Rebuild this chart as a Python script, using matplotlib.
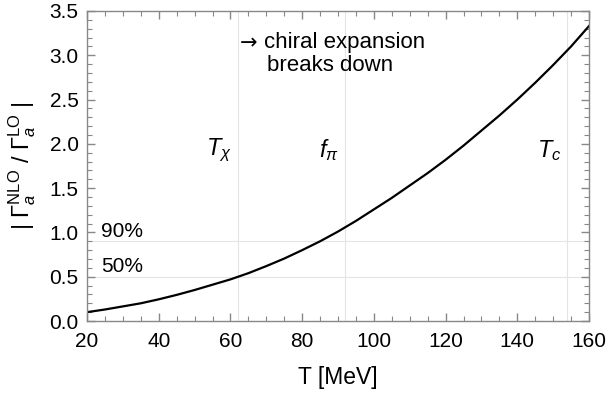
import numpy as np
import matplotlib
matplotlib.use('Agg')
import matplotlib.pyplot as plt
from matplotlib.ticker import MultipleLocator

plt.rcParams['font.family'] = ['Liberation Sans', 'DejaVu Sans']
plt.rcParams['mathtext.fontset'] = 'custom'
plt.rcParams['mathtext.rm'] = 'Liberation Sans'
plt.rcParams['mathtext.it'] = 'Liberation Sans:italic'
plt.rcParams['mathtext.bf'] = 'Liberation Sans:bold'

# ratio |Gamma_NLO / Gamma_LO|
T = [20, 25, 30, 35, 40, 45, 50, 55, 60, 65, 70, 75, 80, 85, 90,
     95, 100, 105, 110, 115, 120, 125, 130, 135, 140, 145, 150, 155, 160]
ratio = [0.10, 0.13, 0.165, 0.20, 0.245, 0.295, 0.35, 0.41, 0.47, 0.54,
         0.62, 0.705, 0.80, 0.90, 1.01, 1.13, 1.26, 1.39, 1.53, 1.67,
         1.82, 1.98, 2.15, 2.32, 2.50, 2.69, 2.89, 3.10, 3.33]

# reference temperatures and levels
vlines = [62, 92, 154]
vlabels = [r'$T_\chi$', r'$f_\pi$', r'$T_c$']
hlines = [0.5, 0.9]
hlabels = ['50%', '90%']

fig = plt.figure(figsize=(6.11, 3.97), dpi=100)
ax = fig.add_axes([0.1424, 0.1914, 0.8216, 0.7809])

for x in vlines:
    ax.axvline(x, color='#e4e4e4', lw=0.8, zorder=0)
for y in hlines:
    ax.axhline(y, color='#e4e4e4', lw=0.8, zorder=0)

ax.plot(T, ratio, color='black', lw=1.6)

for x, lab in zip(vlines, vlabels):
    ax.text(x - 1.8, 1.93, lab, fontsize=17, ha='right', va='center')
for y, lab in zip(hlines, hlabels):
    ax.text(24, y + 0.11, lab, fontsize=15, ha='left', va='center')

# annotation: arrow drawn with DejaVu (wider glyph), text in sans
ax.text(62.7, 3.14, '\u2192', fontsize=15, ha='left', va='center', family='DejaVu Sans')
ax.text(69.4, 3.14, 'chiral expansion', fontsize=16, ha='left', va='center')
ax.text(70.3, 2.89, 'breaks down', fontsize=16, ha='left', va='center')

ax.set_xlim(20, 160)
ax.set_ylim(0, 3.5)
ax.xaxis.set_major_locator(MultipleLocator(20))
ax.xaxis.set_minor_locator(MultipleLocator(5))
ax.yaxis.set_major_locator(MultipleLocator(0.5))
ax.yaxis.set_minor_locator(MultipleLocator(0.1))
ax.yaxis.set_major_formatter(matplotlib.ticker.FormatStrFormatter('%.1f'))

for s in ax.spines.values():
    s.set_color('#888888')
    s.set_linewidth(1.0)
ax.tick_params(which='both', direction='in', top=True, right=True, color='#888888')
ax.tick_params(which='major', length=6, width=1.0, labelsize=15)
ax.tick_params(axis='x', which='major', pad=8)
ax.tick_params(axis='y', which='major', pad=6)
ax.tick_params(which='minor', length=3.5, width=0.8)

ax.set_xlabel('T [MeV]', fontsize=16.5, labelpad=11)
ax.set_ylabel(r'$|\ \Gamma_{\mathit{a}}^{\rm NLO}\ /\ \Gamma_{\mathit{a}}^{\rm LO}\ |$',
              fontsize=17, labelpad=8)

fig.savefig('out.png', dpi=100)
